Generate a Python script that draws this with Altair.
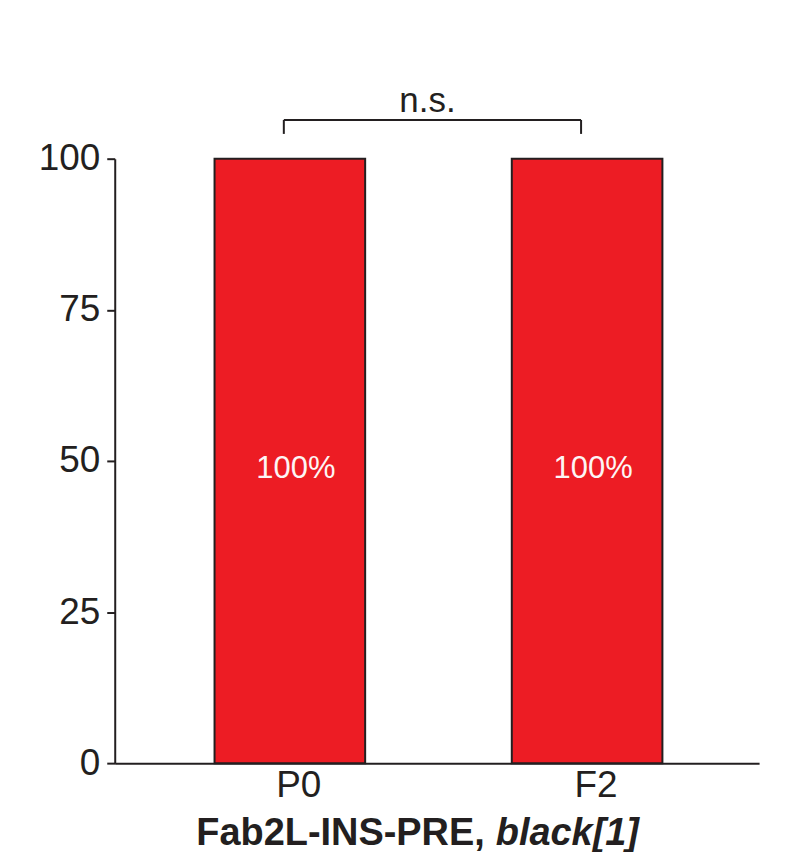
import altair as alt
import pandas as pd

categories = ["P0", "F2"]
percent = [100, 100]
bar_labels = ["100%", "100%"]
y_ticks = [0, 25, 50, 75, 100]
bracket_top = 106.4
bracket_bottom = 104.1
ns_level = 107.8
ns_text = "n.s."
title_plain = "Fab2L-INS-PRE,"
title_italic = "black[1]"

INK = "#231f20"
RED = "#ed1c24"
FONT = "Liberation Sans"

bars_df = pd.DataFrame({"cat": categories, "pct": percent, "label": bar_labels})
bars_df["mid"] = bars_df["pct"] / 2
ticks_df = pd.DataFrame({"cat": categories, "top": [bracket_top] * 2, "bottom": [bracket_bottom] * 2})
span_df = pd.DataFrame({"left": [categories[0]], "right": [categories[1]], "level": [bracket_top],
                        "ns": [ns_text], "nsy": [ns_level]})
title_df = pd.DataFrame({"a": [title_plain], "b": [title_italic]})

xscale = alt.Scale(domain=categories, paddingInner=0.4933, paddingOuter=0.3305, align=0.508)
xaxis = alt.Axis(title=None, labelAngle=0, ticks=False, labelFontSize=37, labelPadding=4,
                 labelOffset=9, labelColor=INK, domainColor=INK, domainWidth=2,
                 labelFont=FONT, grid=False)
yscale = alt.Scale(domain=[0, 100], nice=False)
yaxis = alt.Axis(title=None, values=y_ticks, tickSize=8, tickWidth=2, tickColor=INK,
                 labelFontSize=37, labelPadding=7, labelColor=INK, domainColor=INK,
                 domainWidth=2, labelFont=FONT, grid=False)

bars = alt.Chart(bars_df).mark_bar(color=RED, stroke=INK, strokeWidth=2).encode(
    x=alt.X("cat:N", scale=xscale, axis=xaxis, sort=categories),
    y=alt.Y("pct:Q", scale=yscale, axis=yaxis),
)

pct_text = alt.Chart(bars_df).mark_text(color="#fdf5f5", fontSize=31, font=FONT,
                                        baseline="alphabetic", dx=6, dy=17).encode(
    x=alt.X("cat:N", scale=xscale, axis=xaxis, sort=categories),
    y=alt.Y("mid:Q", scale=yscale, axis=yaxis),
    text="label:N",
)

vticks = alt.Chart(ticks_df).mark_rule(color=INK, strokeWidth=2).encode(
    x=alt.X("cat:N", scale=xscale, axis=xaxis, sort=categories, bandPosition=0.46),
    y=alt.Y("top:Q", scale=yscale, axis=yaxis),
    y2="bottom:Q",
)

hline = alt.Chart(span_df).mark_rule(color=INK, strokeWidth=2).encode(
    x=alt.X("left:N", scale=xscale, axis=xaxis, bandPosition=0.46),
    x2=alt.X2("right:N", bandPosition=0.46),
    y=alt.Y("level:Q", scale=yscale, axis=yaxis),
)

ns = alt.Chart(span_df).mark_text(color=INK, fontSize=35, font=FONT, baseline="alphabetic",
                                  dx=144).encode(
    x=alt.X("left:N", scale=xscale, axis=xaxis, bandPosition=0.46),
    y=alt.Y("nsy:Q", scale=yscale, axis=yaxis),
    text="ns:N",
)

t1 = alt.Chart(title_df).mark_text(color=INK, fontSize=38, font=FONT, fontWeight="bold",
                                   align="right", baseline="alphabetic").encode(
    x=alt.value(371), y=alt.value(688), text="a:N")
t2 = alt.Chart(title_df).mark_text(color=INK, fontSize=38, font=FONT, fontWeight="bold",
                                   fontStyle="italic", align="left", baseline="alphabetic").encode(
    x=alt.value(382), y=alt.value(688), text="b:N")

chart = alt.layer(bars, pct_text, vticks, hline, ns, t1, t2).properties(
    width=646, height=606,
    autosize=alt.AutoSizeParams(type="none"),
    padding={"left": 107, "top": 150, "right": 30, "bottom": 88},
).configure(font=FONT).configure_view(stroke=None)

chart.save("out.html", embed_options={"renderer": "svg", "actions": False})
